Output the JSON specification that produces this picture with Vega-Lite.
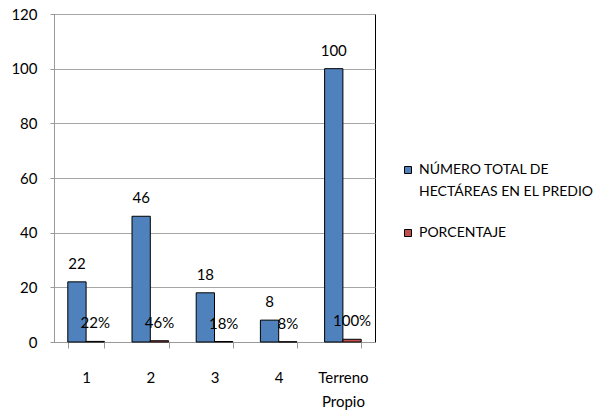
{
  "$schema": "https://vega.github.io/schema/vega-lite/v6.json",
  "autosize": "none",
  "width": 321,
  "height": 328,
  "padding": {"left": 54, "top": 14, "right": 223, "bottom": 69},
  "background": "white",
  "config": {
    "font": "Lato",
    "view": {"stroke": "black", "strokeWidth": 1},
    "axis": {"labelFont": "Lato", "labelFontSize": 15, "labelColor": "black", "domainColor": "#999999", "tickColor": "#999999", "gridColor": "#a6a6a6"},
    "legend": {"labelFont": "Lato", "labelFontSize": 14, "labelColor": "black"}
  },
  "data": {
    "values": [
      {"cat": "1", "serie": "NÚMERO TOTAL DE HECTÁREAS EN EL PREDIO", "value": 22},
      {"cat": "2", "serie": "NÚMERO TOTAL DE HECTÁREAS EN EL PREDIO", "value": 46},
      {"cat": "3", "serie": "NÚMERO TOTAL DE HECTÁREAS EN EL PREDIO", "value": 18},
      {"cat": "4", "serie": "NÚMERO TOTAL DE HECTÁREAS EN EL PREDIO", "value": 8},
      {"cat": "Terreno Propio", "serie": "NÚMERO TOTAL DE HECTÁREAS EN EL PREDIO", "value": 100},
      {"cat": "1", "serie": "PORCENTAJE", "value": 0.22},
      {"cat": "2", "serie": "PORCENTAJE", "value": 0.46},
      {"cat": "3", "serie": "PORCENTAJE", "value": 0.18},
      {"cat": "4", "serie": "PORCENTAJE", "value": 0.08},
      {"cat": "Terreno Propio", "serie": "PORCENTAJE", "value": 1.0}
    ]
  },
  "encoding": {
    "x": {
      "field": "cat", "type": "nominal", "title": null,
      "scale": {"paddingInner": 0.43, "paddingOuter": 0.215},
      "axis": {"labelAngle": 0, "tickBand": "extent", "tickSize": 6, "labelPadding": 22, "labelBaseline": "top", "labelLineHeight": 24,
               "labelExpr": "split(datum.label, ' ')", "grid": false}
    },
    "xOffset": {"field": "serie", "type": "nominal", "sort": ["NÚMERO TOTAL DE HECTÁREAS EN EL PREDIO", "PORCENTAJE"]},
    "y": {
      "field": "value", "type": "quantitative", "title": null,
      "scale": {"domain": [0, 120]},
      "axis": {"values": [0, 20, 40, 60, 80, 100, 120], "tickSize": 4, "labelPadding": 13, "grid": true}
    }
  },
  "layer": [
    {
      "mark": {"type": "bar", "stroke": "black", "strokeWidth": 1},
      "encoding": {
        "color": {
          "field": "serie", "type": "nominal",
          "scale": {"domain": ["NÚMERO TOTAL DE HECTÁREAS EN EL PREDIO", "PORCENTAJE"], "range": ["#4F81BD", "#C0504D"]},
          "legend": {
            "title": null, "orient": "none", "legendX": 347, "legendY": 149,
            "symbolType": "square", "symbolSize": 49, "symbolStrokeColor": "black", "symbolStrokeWidth": 1,
            "labelExpr": "datum.label == 'NÚMERO TOTAL DE HECTÁREAS EN EL PREDIO' ? ['NÚMERO TOTAL DE', 'HECTÁREAS EN EL PREDIO'] : datum.label",
            "labelLimit": 300, "rowPadding": 27,
            "encode": {"labels": {"update": {"lineHeight": {"value": 22}}}}
          }
        }
      }
    },
    {
      "transform": [{"filter": "datum.serie == 'NÚMERO TOTAL DE HECTÁREAS EN EL PREDIO'"}],
      "mark": {"type": "text", "baseline": "bottom", "dy": -10, "fontSize": 15, "color": "black"},
      "encoding": {"text": {"field": "value", "type": "quantitative", "format": "d"}}
    },
    {
      "transform": [{"filter": "datum.serie == 'PORCENTAJE'"}],
      "mark": {"type": "text", "baseline": "bottom", "dy": -10, "fontSize": 15, "color": "black"},
      "encoding": {"text": {"field": "value", "type": "quantitative", "format": ".0%"}}
    }
  ]
}
